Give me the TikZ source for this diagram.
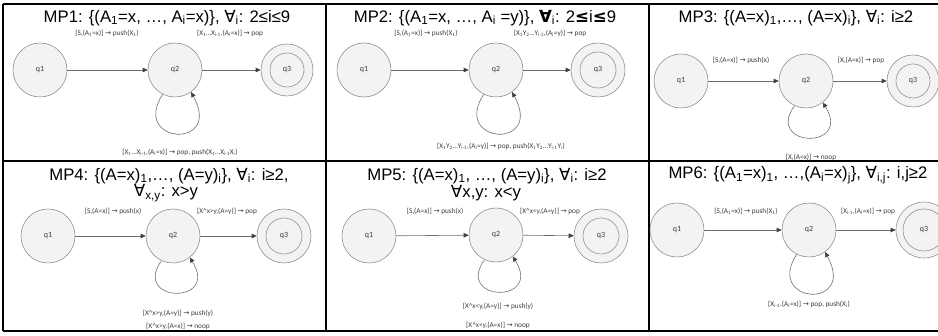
\documentclass[tikz,border=0pt]{standalone}
\usepackage{fontspec}
\setmainfont{Liberation Sans}
\newfontfamily\lblfont{Carlito}
\newfontfamily\symfont{DejaVu Sans}
\newfontfamily\symbfont{DejaVu Sans Bold}
\usetikzlibrary{arrows.meta}
\definecolor{edgegray}{RGB}{110,110,110}
\definecolor{circgray}{RGB}{145,145,145}
\definecolor{fillgray}{RGB}{243,243,243}
\definecolor{txtgray}{RGB}{60,60,60}
\newcommand\rarr{{\symfont\char"2192}}
\newcommand\fall{{\symfont\char"2200}}
\newcommand\fallb{{\symbfont\char"2200}}
\newcommand\leb{{\symbfont\char"2264}}
\newcommand\sbs[1]{\textsubscript{#1}}
\tikzset{
  qnode/.style={circle, draw=circgray, line width=0.6pt, fill=fillgray, minimum size=54pt, inner sep=0pt, font=\lblfont\fontsize{8}{9}\selectfont, text=txtgray},
  qin/.style={circle, draw=circgray, line width=0.6pt, minimum size=34pt, inner sep=0pt, font=\lblfont\fontsize{8}{9}\selectfont, text=txtgray},
  trans/.style={draw=edgegray, line width=0.6pt, -{Triangle[length=5pt,width=4.5pt,color=black!75]}},
  lbl/.style={font=\lblfont\fontsize{7.3}{8}\selectfont, text=txtgray, inner sep=0pt},
  ttl/.style={font=\fontsize{16.7}{19}\selectfont, inner sep=0pt},
  rule/.style={line width=1.3pt}
}
\begin{document}
\begin{tikzpicture}[x=1pt,y=-1pt]
\useasboundingbox (0,0) rectangle (938,336);
% grid
\draw[rule] (3,4) -- (938,4);
\draw[rule] (3,161) -- (938,161);
\draw[rule] (3,331) -- (938,331);
\draw[rule] (3,4) -- (3,331);
\draw[rule] (326,4) -- (326,331);
\draw[rule] (649,4) -- (649,331);

% ---------- Panel 1 ----------
\node[ttl] (t1) at (167,18) {MP1: \{(A\sbs{1}=x, …, A\sbs{i}=x)\}, \fall\sbs{i}: 2≤i≤9};
\node[qnode] (a1) at (40,70) {q1};
\node[qnode] (a2) at (175,70) {q2};
\node[qnode, minimum size=52pt] (a3) at (287,70) {};
\node[qin] (a3i) at (287,70) {q3};
\draw[trans] (a1) -- (a2);
\draw[trans] (a2) -- (a3);
\draw[trans] (a2.-117) .. controls +(-32,50) and +(32,58) .. (a2.-54);
\node[lbl] (la1) at (107,33) {[S,(A\sbs{1}=x)] \rarr{} push(X\sbs{1})};
\node[lbl] (la2) at (230,33) {[X\sbs{1}…X\sbs{i-1},(A\sbs{i}=x)] \rarr{} pop};
\node[lbl] (la3) at (180,152) {[X\sbs{1}…X\sbs{i-1},(A\sbs{i}=x)] \rarr{} pop, push(X\sbs{1}…X\sbs{i-1}X\sbs{i})};

% ---------- Panel 2 ----------
\node[ttl] (t2) at (485,18) {MP2: \{(A\sbs{1}=x, …, A\sbs{i} =y)\}, \fallb\sbs{i}: 2\leb{}i\leb{}9};
\node[qnode] (b1) at (364,70) {q1};
\node[qnode] (b2) at (496,70) {q2};
\node[qnode] (b3) at (598,70) {};
\node[qin, minimum size=36pt] (b3i) at (598,70) {q3};
\draw[trans] (b1) -- (b2);
\draw[trans] (b2) -- (b3);
\draw[trans] (b2.-117) .. controls +(-32,50) and +(32,58) .. (b2.-54);
\node[lbl] (lb1) at (426,33) {[S,(A\sbs{1}=x)] \rarr{} push(X\sbs{1})};
\node[lbl] (lb2) at (550,33) {[X\sbs{1}Y\sbs{2}…Y\sbs{i-1},(A\sbs{i}=y)] \rarr{} pop};
\node[lbl] (lb3) at (501,146) {[X\sbs{1}Y\sbs{2}…Y\sbs{i-1},(A\sbs{i}=y)] \rarr{} pop, push(X\sbs{1}Y\sbs{2}…Y\sbs{i-1}Y\sbs{i})};

% ---------- Panel 3 ----------
\node[ttl] (t3) at (796,18) {MP3: \{(A=x)\sbs{1},…, (A=x)\sbs{i}\}, \fall\sbs{i}: i≥2};
\node[qnode] (c1) at (681,81) {q1};
\node[qnode] (c2) at (806,81) {q2};
\node[qnode, minimum size=52pt] (c3) at (913,81) {};
\node[qin] (c3i) at (913,81) {q3};
\draw[trans] (c1) -- (c2);
\draw[trans] (c2) -- (c3);
\draw[trans] (c2.-115) .. controls +(-30,42) and +(30,48) .. (c2.-52);
\node[lbl] (lc1) at (741,60) {[S,(A=x)] \rarr{} push(x)};
\node[lbl] (lc2) at (861,60) {[X,(A=x)] \rarr{} pop};
\node[lbl] (lc3) at (811,157) {[X,(A=x)] \rarr{} noop};

% ---------- Panel 4 ----------
\node[ttl] (t4a) at (169,176) {MP4: \{(A=x)\sbs{1},…, (A=y)\sbs{i}\}, \fall\sbs{i}: i≥2,};
\node[ttl] (t4b) at (166,193) {\fall\sbs{x,y}: x>y};
\node[qnode] (d1) at (48,236) {q1};
\node[qnode] (d2) at (173,236) {q2};
\node[qnode] (d3) at (284,236) {};
\node[qin, minimum size=36pt] (d3i) at (284,236) {q3};
\draw[trans] (d1) -- (d2);
\draw[trans] (d2) -- (d3);
\draw[trans] (d2.-115) .. controls +(-30,42) and +(30,48) .. (d2.-52);
\node[lbl] (ld1) at (113,211) {[S,(A=x)] \rarr{} push(x)};
\node[lbl] (ld2) at (227,211) {[X\textasciicircum x>y,(A=y)] \rarr{} pop};
\node[lbl] (ld3) at (178,313) {[X\textasciicircum x>y,(A=y)] \rarr{} push(y)};
\node[lbl] (ld4) at (178,326) {[X\textasciicircum x>y,(A=x)] \rarr{} noop};

% ---------- Panel 5 ----------
\node[ttl] (t5a) at (487,176) {MP5: \{(A=x)\sbs{1}, …, (A=y)\sbs{i}\}, \fall\sbs{i}: i≥2};
\node[ttl] (t5b) at (486,193) {\fall{}x,y: x<y};
\node[qnode] (e1) at (369,236) {q1};
\node[qnode] (e2) at (496,235) {q2};
\node[qnode] (e3) at (601,236) {};
\node[qin, minimum size=36pt] (e3i) at (601,236) {q3};
\draw[trans] (e1) -- (e2);
\draw[trans] (e2) -- (e3);
\draw[trans] (e2.-115) .. controls +(-30,42) and +(30,48) .. (e2.-52);
\node[lbl] (le1) at (435,211) {[S,(A=x)] \rarr{} push(x)};
\node[lbl] (le2) at (550,211) {[X\textasciicircum x<y,(A=y)] \rarr{} pop};
\node[lbl] (le3) at (498,306) {[X\textasciicircum x<y,(A=y)] \rarr{} push(y)};
\node[lbl] (le4) at (498,325) {[X\textasciicircum x<y,(A=x)] \rarr{} noop};

% ---------- Panel 6 ----------
\node[ttl] (t6) at (798,175) {MP6: \{(A\sbs{1}=x)\sbs{1}, …,(A\sbs{i}=x)\sbs{j}\}, \fall\sbs{i,j}: i,j≥2};
\node[qnode] (f1) at (677,230) {q1};
\node[qnode] (f2) at (809,230) {q2};
\node[qnode, minimum size=56pt] (f3) at (924,230) {};
\node[qin, minimum size=42pt] (f3i) at (924,230) {q3};
\draw[trans] (f1) -- (f2);
\draw[trans] (f2) -- (f3);
\draw[trans] (f2.-117) .. controls +(-32,50) and +(32,58) .. (f2.-54);
\node[lbl] (lf1) at (746,211) {[S,(A\sbs{1}=x)] \rarr{} push(X\sbs{1})};
\node[lbl] (lf2) at (868,211) {[X\sbs{i-1},(A\sbs{i}=x)] \rarr{} pop};
\node[lbl] (lf3) at (809,304) {[X\sbs{i-1},(A\sbs{i}=x)] \rarr{} pop, push(X\sbs{i})};
\end{tikzpicture}
\end{document}
